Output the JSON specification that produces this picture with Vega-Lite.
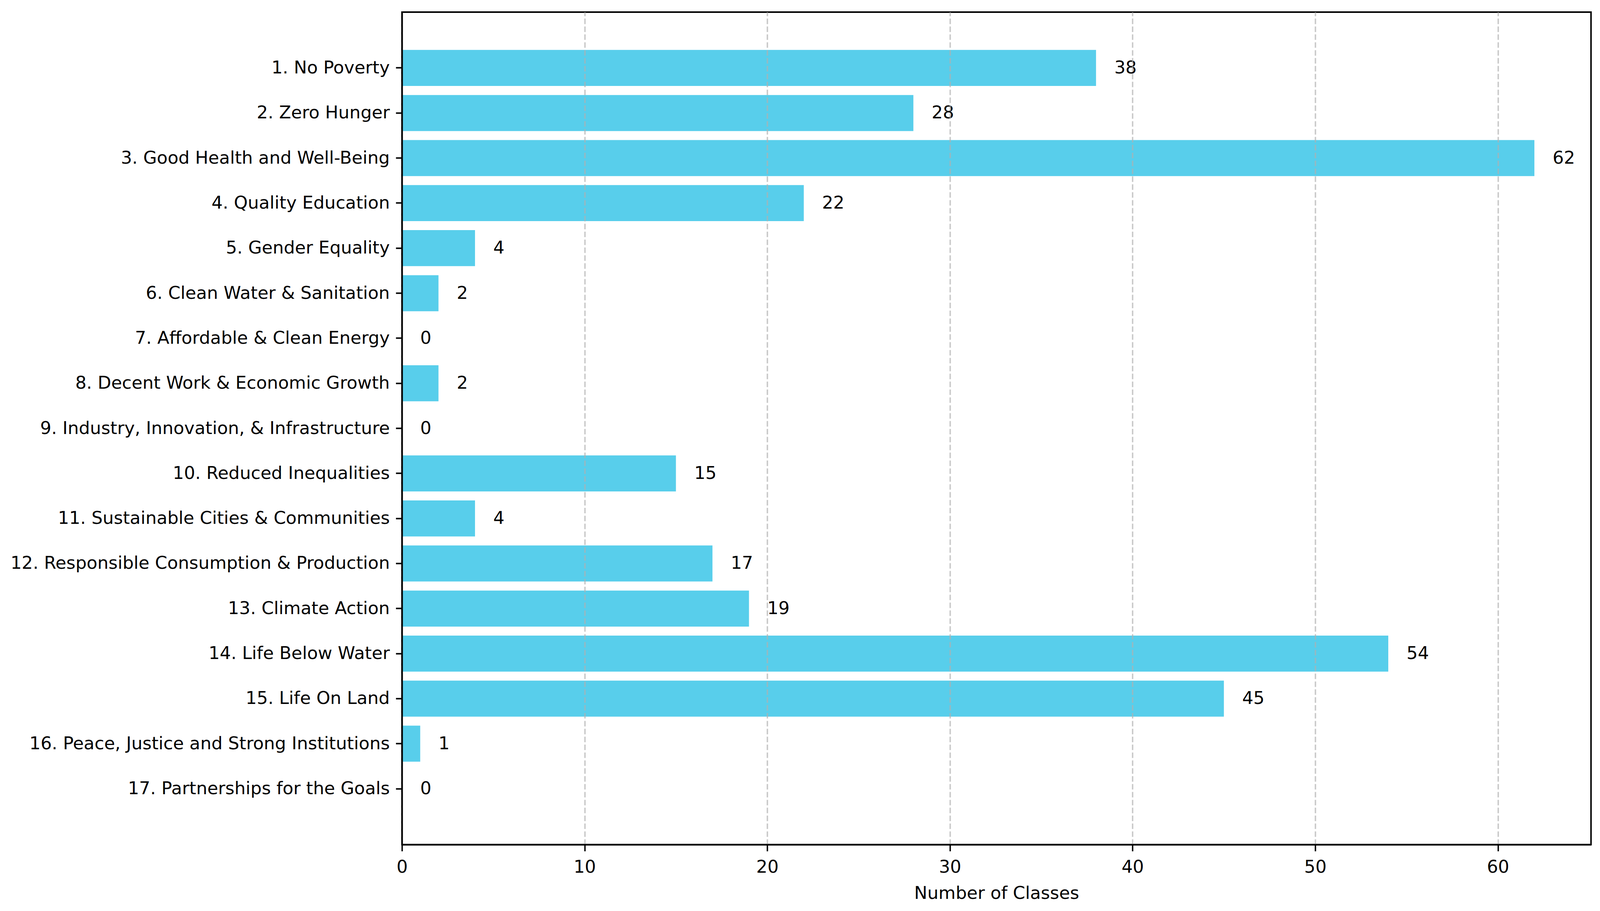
{
  "$schema": "https://vega.github.io/schema/vega-lite/v6.json",
  "width": 3044,
  "height": 2131,
  "autosize": {"type": "none"},
  "padding": {"left": 1029, "top": 31, "right": 23, "bottom": 170},
  "background": "white",
  "config": {
    "view": {"stroke": "black", "strokeWidth": 3.8},
    "font": "DejaVu Sans"
  },
  "data": {
    "values": [
      {"goal": "1. No Poverty", "classes": 38},
      {"goal": "2. Zero Hunger", "classes": 28},
      {"goal": "3. Good Health and Well-Being", "classes": 62},
      {"goal": "4. Quality Education", "classes": 22},
      {"goal": "5. Gender Equality", "classes": 4},
      {"goal": "6. Clean Water & Sanitation", "classes": 2},
      {"goal": "7. Affordable & Clean Energy", "classes": 0},
      {"goal": "8. Decent Work & Economic Growth", "classes": 2},
      {"goal": "9. Industry, Innovation, & Infrastructure", "classes": 0},
      {"goal": "10. Reduced Inequalities", "classes": 15},
      {"goal": "11. Sustainable Cities & Communities", "classes": 4},
      {"goal": "12. Responsible Consumption & Production", "classes": 17},
      {"goal": "13. Climate Action", "classes": 19},
      {"goal": "14. Life Below Water", "classes": 54},
      {"goal": "15. Life On Land", "classes": 45},
      {"goal": "16. Peace, Justice and Strong Institutions", "classes": 1},
      {"goal": "17. Partnerships for the Goals", "classes": 0}
    ]
  },
  "encoding": {
    "y": {
      "field": "goal",
      "type": "nominal",
      "sort": null,
      "scale": {"paddingInner": 0.2, "paddingOuter": 0.84},
      "axis": {
        "title": null,
        "grid": false,
        "tickSize": 15.8,
        "tickWidth": 3.8,
        "tickColor": "black",
        "domainColor": "black",
        "domainWidth": 3.8,
        "labelFontSize": 45,
        "labelColor": "black",
        "labelPadding": 15.8,
        "labelLimit": 0,
        "zindex": 1
      }
    }
  },
  "layer": [
    {
      "mark": {"type": "bar", "color": "#58CEEB"},
      "encoding": {
        "x": {
          "field": "classes",
          "type": "quantitative",
          "scale": {"domain": [0, 65.1], "nice": false, "zero": true},
          "axis": {
            "values": [0, 10, 20, 30, 40, 50, 60],
            "grid": true,
            "gridDash": [14.1, 6.1],
            "gridColor": "#b0b0b0",
            "gridOpacity": 0.7,
            "gridWidth": 3.6,
            "tickSize": 16.7,
            "tickWidth": 3.6,
            "tickColor": "black",
            "domainColor": "black",
            "domainWidth": 3.8,
            "labelFontSize": 45,
            "labelColor": "black",
            "labelPadding": 19,
            "labelFlush": false,
            "title": "Number of Classes",
            "titleFontSize": 45,
            "titleFontWeight": "normal",
            "titleColor": "black",
            "titlePadding": 22,
            "zindex": 1
          }
        }
      }
    },
    {
      "mark": {"type": "text", "align": "left", "baseline": "middle", "dx": 46.8, "fontSize": 45, "color": "black"},
      "encoding": {
        "x": {"field": "classes", "type": "quantitative"},
        "text": {"field": "classes", "type": "quantitative"}
      }
    }
  ]
}
